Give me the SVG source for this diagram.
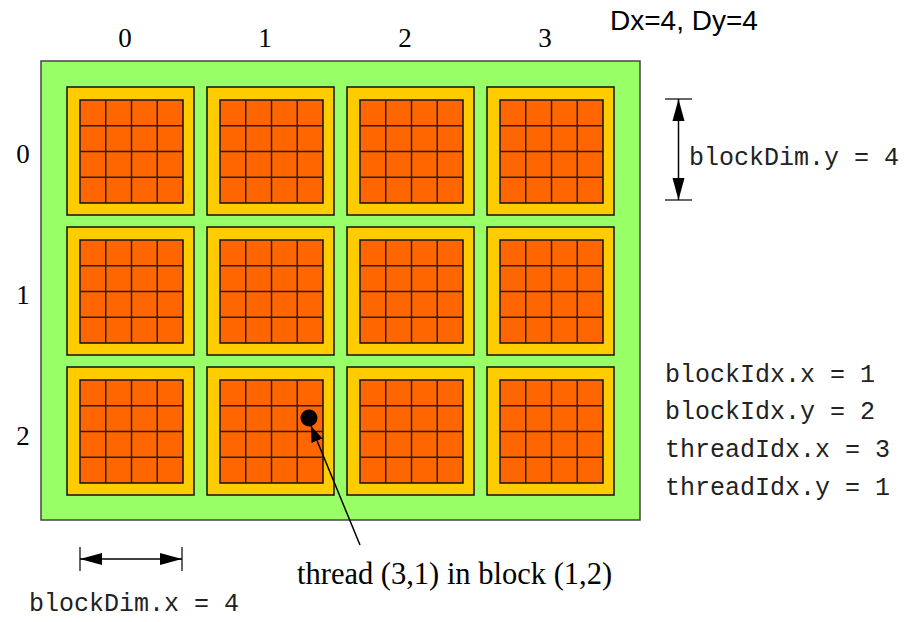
<svg xmlns="http://www.w3.org/2000/svg" xmlns:xlink="http://www.w3.org/1999/xlink" width="921" height="622" viewBox="0 0 921 622">
<style>
.grid{fill:#99FF66;stroke:#444;stroke-width:1.5}
.blk{fill:#FFCC00;stroke:#111;stroke-width:1.5}
.thr{fill:#FF6600;stroke:#111;stroke-width:1.5}
.gl{fill:none;stroke:#222;stroke-width:1.5}
.lbl{font-family:"Liberation Serif","Times New Roman",serif;font-size:27px;fill:#000}
.ttl{font-family:"Liberation Sans",Arial,sans-serif;font-size:28px;fill:#000}
.mono{font-family:"Liberation Mono","Courier New",monospace;font-size:25px;fill:#222}
.dim{stroke:#000;stroke-width:1.5;fill:none}
.tick{stroke:#000;stroke-width:1.2}
</style>
<defs>
<marker id="ah" markerUnits="userSpaceOnUse" markerWidth="24" markerHeight="14" refX="22" refY="6" orient="auto-start-reverse" viewBox="0 0 24 12">
<path d="M0,0 L22,6 L0,12 Z" fill="#000"/>
</marker>
<marker id="ap" markerUnits="userSpaceOnUse" markerWidth="18" markerHeight="13" refX="16" refY="6" orient="auto" viewBox="0 0 18 12">
<path d="M0,0 L16,6 L0,12 Z" fill="#000"/>
</marker>
<g id="blockShape">
<rect class="blk" x="0" y="0" width="127" height="128"/>
<rect class="thr" x="13" y="13" width="103" height="103"/>
<path class="gl" d="M38.75,13 V116 M64.5,13 V116 M90.25,13 V116 M13,38.75 H116 M13,64.5 H116 M13,90.25 H116"/>
</g>
</defs>
<rect class="grid" x="41" y="61" width="599" height="459"/>
<g id="block-0-0"><use xlink:href="#blockShape" x="67" y="87"/></g>
<g id="block-1-0"><use xlink:href="#blockShape" x="207" y="87"/></g>
<g id="block-2-0"><use xlink:href="#blockShape" x="347" y="87"/></g>
<g id="block-3-0"><use xlink:href="#blockShape" x="487" y="87"/></g>
<g id="block-0-1"><use xlink:href="#blockShape" x="67" y="227"/></g>
<g id="block-1-1"><use xlink:href="#blockShape" x="207" y="227"/></g>
<g id="block-2-1"><use xlink:href="#blockShape" x="347" y="227"/></g>
<g id="block-3-1"><use xlink:href="#blockShape" x="487" y="227"/></g>
<g id="block-0-2"><use xlink:href="#blockShape" x="67" y="367"/></g>
<g id="block-1-2"><use xlink:href="#blockShape" x="207" y="367"/></g>
<g id="block-2-2"><use xlink:href="#blockShape" x="347" y="367"/></g>
<g id="block-3-2"><use xlink:href="#blockShape" x="487" y="367"/></g>
<g id="thread-dot"><circle cx="309" cy="418" r="8.5" fill="#000"/></g>
<g id="labels">
<text class="lbl" x="125" y="47" text-anchor="middle">0</text>
<text class="lbl" x="265" y="47" text-anchor="middle">1</text>
<text class="lbl" x="405" y="47" text-anchor="middle">2</text>
<text class="lbl" x="545" y="47" text-anchor="middle">3</text>
<text class="lbl" x="23" y="163" text-anchor="middle">0</text>
<text class="lbl" x="23" y="304" text-anchor="middle">1</text>
<text class="lbl" x="23" y="445" text-anchor="middle">2</text>
<text class="ttl" x="610" y="30">Dx=4, Dy=4</text>
<text class="mono" x="689" y="165">blockDim.y = 4</text>
<text class="mono" x="665" y="382">blockIdx.x = 1</text>
<text class="mono" x="665" y="419">blockIdx.y = 2</text>
<text class="mono" x="665" y="457">threadIdx.x = 3</text>
<text class="mono" x="665" y="495">threadIdx.y = 1</text>
<text class="mono" x="29" y="611">blockDim.x = 4</text>
<text class="lbl" x="297" y="584" style="font-size:30.5px">thread (3,1) in block (1,2)</text>
</g>
<g id="connectors">
<line class="tick" x1="665" y1="99" x2="692" y2="99"/>
<line class="tick" x1="665" y1="200" x2="692" y2="200"/>
<line class="dim" x1="678.5" y1="99" x2="678.5" y2="200" marker-start="url(#ah)" marker-end="url(#ah)"/>
<line class="tick" x1="80" y1="547" x2="80" y2="571"/>
<line class="tick" x1="182" y1="547" x2="182" y2="571"/>
<line class="dim" x1="80" y1="559" x2="182" y2="559" marker-start="url(#ah)" marker-end="url(#ah)"/>
<line class="dim" x1="360" y1="545" x2="311" y2="426" stroke-width="1.2" marker-end="url(#ap)"/>
</g>
</svg>
